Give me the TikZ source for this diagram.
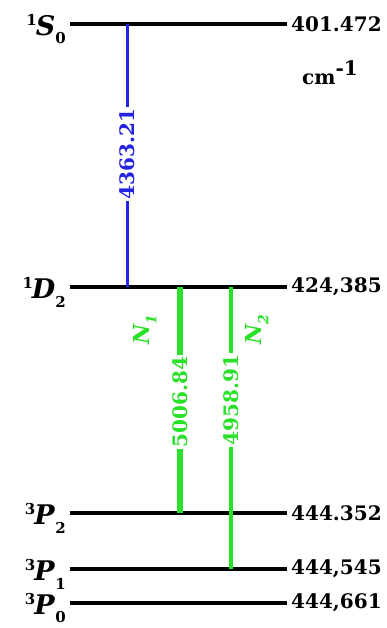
\documentclass[tikz,border=0pt]{standalone}
\usepackage{fontspec}
\setmainfont{DejaVu Serif}
\newcommand\termsym[3]{\bfseries\raisebox{0.40em}{\fontsize{15}{15}\selectfont #1}\kern-1pt\textit{#2}\raisebox{-0.30em}{\fontsize{15}{15}\selectfont #3}}
\begin{document}
\begin{tikzpicture}[x=1pt,y=-1pt,
  level/.style={line width=3.8pt,black},
  energy/.style={anchor=west,font=\fontsize{20}{20}\selectfont\bfseries,inner sep=0pt},
  termlab/.style={anchor=east,font=\fontsize{27}{27}\selectfont,inner sep=0pt},
  wavelab/.style={rotate=90,fill=white,inner sep=1.5pt,font=\fontsize{20}{20}\selectfont\bfseries},
  nlab/.style={rotate=90,inner sep=0pt,font=\fontsize{22}{22}\selectfont\bfseries\itshape}
]
\useasboundingbox (0,0) rectangle (387,628);
\definecolor{lineblue}{RGB}{35,35,225}
\definecolor{linegreen}{RGB}{40,225,40}
% levels
\coordinate (s0a) at (70,24);   \coordinate (s0b) at (287,24);
\coordinate (d2a) at (70,287);  \coordinate (d2b) at (287,287);
\coordinate (p2a) at (70,513);  \coordinate (p2b) at (287,513);
\coordinate (p1a) at (70,569);  \coordinate (p1b) at (287,569);
\coordinate (p0a) at (70,603);  \coordinate (p0b) at (287,603);
\draw[level] (s0a) -- (s0b);
\draw[level] (d2a) -- (d2b);
\draw[level] (p2a) -- (p2b);
\draw[level] (p1a) -- (p1b);
\draw[level] (p0a) -- (p0b);
% term labels
\node[termlab] (ts0) at (66,29) {\termsym{1}{S}{0}};
\node[termlab] (td2) at (66,292) {\termsym{1}{D}{2}};
\node[termlab] (tp2) at (66,518) {\termsym{3}{P}{2}};
\node[termlab] (tp1) at (66,574) {\termsym{3}{P}{1}};
\node[termlab] (tp0) at (66,608) {\termsym{3}{P}{0}};
% energies
\node[energy] (es0) at (291,24) {401.472};
\node[energy] (ed2) at (291,287) {424,385};
\node[energy] (ep2) at (291,513) {444.352};
\node[energy] (ep1) at (291,569) {444,545};
\node[energy] (ep0) at (291,603) {444,661};
\node[anchor=west,inner sep=0pt,font=\fontsize{20}{20}\selectfont\bfseries] (unit) at (302,73) {cm\raisebox{0.45em}{-1}};
% transitions
\coordinate (bt) at (127,24);  \coordinate (bb) at (127,287);
\coordinate (g1t) at (180,287); \coordinate (g1b) at (180,513);
\coordinate (g2t) at (231,287); \coordinate (g2b) at (231,569);
\draw[lineblue,line width=3pt] (bt) -- (bb);
\draw[linegreen,line width=6pt] (g1t) -- (g1b);
\draw[linegreen,line width=3.2pt] (g2t) -- (g2b);
\node[wavelab,text=lineblue] (w1) at (127,154) {4363.21};
\node[wavelab,text=linegreen] (w2) at (180,402) {5006.84};
\node[wavelab,text=linegreen] (w3) at (231,400) {4958.91};
\node[nlab,text=linegreen] (n1) at (145,330) {N\raisebox{-0.3em}{\fontsize{14}{14}\selectfont 1}};
\node[nlab,text=linegreen] (n2) at (257,330) {N\raisebox{-0.3em}{\fontsize{14}{14}\selectfont 2}};
\end{tikzpicture}
\end{document}
